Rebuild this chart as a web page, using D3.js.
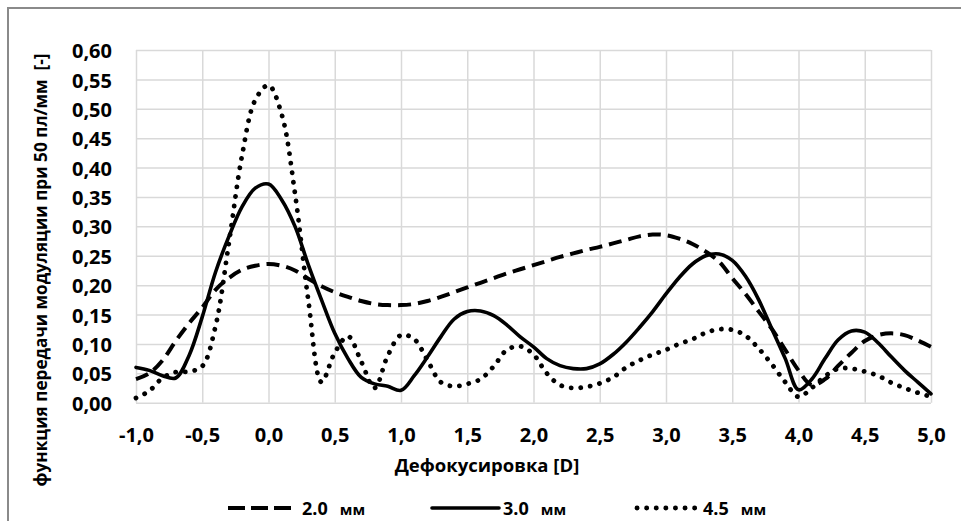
<!DOCTYPE html>
<meta charset="utf-8">
<style>
body { margin: 0; background: #fff; }
svg { font-family: "Open Sans", sans-serif; font-weight: bold; }
.grid line { stroke: #d9d9d9; stroke-width: 1.5; }
.tick text { fill: #000; }
</style>
<body>
<script src="https://d3js.org/d3.v7.min.js"></script>
<script>

// defocus positions [D]
var defocus = [-1.0,-0.9,-0.8,-0.7,-0.6,-0.5,-0.4,-0.3,-0.2,-0.1,
  0.0,0.1,0.2,0.3,0.4,0.5,0.6,0.7,0.8,0.9,
  1.0,1.1,1.2,1.3,1.4,1.5,1.6,1.7,1.8,1.9,
  2.0,2.1,2.2,2.3,2.4,2.5,2.6,2.7,2.8,2.9,
  3.0,3.1,3.2,3.3,3.4,3.5,3.6,3.7,3.8,3.9,
  4.0,4.1,4.2,4.3,4.4,4.5,4.6,4.7,4.8,4.9,5.0];

// MTF at 50 lp/mm, pupil 2.0 mm (dashed)
var mtf20 = [0.040,0.050,0.072,0.105,0.135,0.162,0.192,0.212,0.226,0.233,
  0.236,0.233,0.225,0.211,0.198,0.188,0.180,0.173,0.168,0.166,
  0.166,0.168,0.173,0.180,0.188,0.196,0.204,0.212,0.220,0.227,
  0.234,0.241,0.248,0.254,0.260,0.265,0.271,0.277,0.283,0.286,
  0.285,0.279,0.270,0.257,0.240,0.212,0.185,0.155,0.125,0.090,
  0.055,0.030,0.040,0.063,0.085,0.105,0.115,0.118,0.115,0.106,0.095];

// pupil 3.0 mm (solid)
var mtf30 = [0.060,0.055,0.046,0.042,0.080,0.146,0.222,0.282,0.333,0.365,
  0.372,0.345,0.300,0.235,0.175,0.118,0.075,0.043,0.032,0.028,
  0.021,0.046,0.078,0.112,0.142,0.155,0.156,0.148,0.132,0.112,
  0.095,0.075,0.063,0.058,0.058,0.066,0.082,0.103,0.128,0.155,
  0.185,0.213,0.236,0.250,0.253,0.242,0.215,0.175,0.125,0.075,
  0.022,0.040,0.075,0.107,0.122,0.120,0.102,0.078,0.055,0.035,0.015];

// pupil 4.5 mm (dotted)
var mtf45 = [0.008,0.020,0.042,0.052,0.053,0.062,0.130,0.270,0.420,0.515,
  0.540,0.490,0.356,0.175,0.035,0.085,0.113,0.070,0.025,0.080,
  0.115,0.108,0.072,0.035,0.028,0.032,0.040,0.062,0.090,0.096,
  0.082,0.050,0.030,0.025,0.027,0.033,0.043,0.060,0.072,0.082,
  0.090,0.100,0.108,0.119,0.125,0.124,0.114,0.092,0.065,0.035,
  0.010,0.025,0.045,0.058,0.058,0.053,0.046,0.034,0.025,0.017,0.010];

var xTicks = [-1.0,-0.5,0.0,0.5,1.0,1.5,2.0,2.5,3.0,3.5,4.0,4.5,5.0];
var yTicks = [0,0.05,0.10,0.15,0.20,0.25,0.30,0.35,0.40,0.45,0.50,0.55,0.60];

var seriesNames = ["2.0", "3.0", "4.5"];
var seriesValues = [mtf20, mtf30, mtf45];

var W = 961, H = 521;
var plot = {left: 136, right: 931, top: 50, bottom: 402.7};

var svg = d3.select("body").append("svg")
  .attr("width", W).attr("height", H);

// outer frame
svg.append("path")
  .attr("d", "M8,521 L8,8 L961,8")
  .attr("fill", "none").attr("stroke", "#8a8a8a").attr("stroke-width", 2);

var x = d3.scaleLinear().domain([-1, 5]).range([plot.left, plot.right]);
var y = d3.scaleLinear().domain([0, 0.6]).range([plot.bottom, plot.top]);

// grid
svg.append("g").attr("class", "grid")
  .attr("transform", `translate(0,${plot.bottom})`)
  .call(d3.axisBottom(x).tickValues(xTicks).tickSize(-(plot.bottom - plot.top)).tickFormat(""))
  .call(g => g.select(".domain").remove());
svg.append("g").attr("class", "grid")
  .attr("transform", `translate(${plot.left},0)`)
  .call(d3.axisLeft(y).tickValues(yTicks).tickSize(-(plot.right - plot.left)).tickFormat(""))
  .call(g => g.select(".domain").remove());

// tick labels
svg.append("g")
  .attr("transform", `translate(${plot.left},0)`)
  .call(d3.axisLeft(y).tickValues(yTicks).tickSize(0).tickPadding(24)
    .tickFormat(d => d.toFixed(2).replace(".", ",")))
  .call(g => g.select(".domain").remove())
  .selectAll("text").attr("font-size", 20).attr("font-family", "Open Sans").attr("font-weight", "bold").attr("dy", "0.38em");

svg.append("g")
  .attr("transform", `translate(0,${plot.bottom})`)
  .call(d3.axisBottom(x).tickValues(xTicks).tickSize(0).tickPadding(25)
    .tickFormat(d => d.toFixed(1).replace(".", ",")))
  .call(g => g.select(".domain").remove())
  .selectAll("text").attr("font-size", 20).attr("font-family", "Open Sans").attr("font-weight", "bold");

// axis titles
svg.append("text")
  .attr("x", 487).attr("y", 472)
  .attr("text-anchor", "middle").attr("font-size", 18.5)
  .text("Дефокусировка [D]");

svg.append("text")
  .attr("transform", "translate(47,270) rotate(-90)")
  .attr("text-anchor", "middle").attr("font-size", 17.2)
  .attr("xml:space", "preserve")
  .text("функция передачи модуляции при 50 пл/мм  [-]");

// line styles
var styles = [
  {dash: "13,7", width: 4, cap: "butt"},
  {dash: null, width: 3.6, cap: "round"},
  {dash: "0.1,9.5", width: 4.8, cap: "round"}
];

var line = d3.line()
  .x((d, i) => x(defocus[i]))
  .y(d => y(d))
  .curve(d3.curveCatmullRom.alpha(0.5));

seriesValues.forEach(function(vals, k) {
  svg.append("path")
    .datum(vals)
    .attr("d", line)
    .attr("fill", "none")
    .attr("stroke", "#000")
    .attr("stroke-width", styles[k].width)
    .attr("stroke-linecap", styles[k].cap)
    .attr("stroke-linejoin", "round")
    .attr("stroke-dasharray", styles[k].dash);
});

// legend
var legendX = [[228, 293, 302], [432, 499, 503], [637, 700, 703]];
var legY = 508;
seriesNames.forEach(function(name, k) {
  svg.append("line")
    .attr("x1", legendX[k][0]).attr("x2", legendX[k][1])
    .attr("y1", legY).attr("y2", legY)
    .attr("stroke", "#000")
    .attr("stroke-width", styles[k].width)
    .attr("stroke-linecap", styles[k].cap)
    .attr("stroke-dasharray", k == 0 ? "17,6" : styles[k].dash);
  var t = svg.append("text")
    .attr("x", legendX[k][2]).attr("y", 515)
    .attr("font-size", 18);
  t.append("tspan").text(name);
  t.append("tspan").attr("dx", 12).attr("font-size", 15).text("мм");
});

</script>
</body>
</html>
